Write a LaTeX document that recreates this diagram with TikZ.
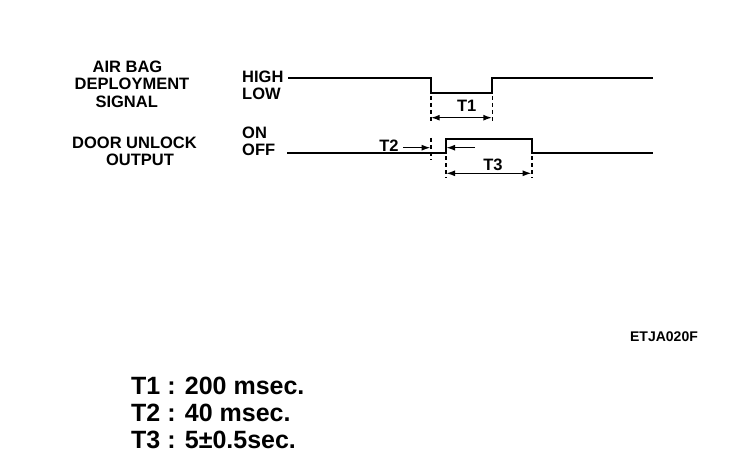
\documentclass[tikz,border=0pt]{standalone}
\usepackage{fontspec}
\setmainfont{Liberation Sans}
\usetikzlibrary{arrows.meta}
\begin{document}
\begin{tikzpicture}[x=1pt,y=-1pt,
  lbl/.style={inner sep=0pt,anchor=base,font=\fontsize{16.5}{18}\selectfont\bfseries},
  lblw/.style={lbl,anchor=base west},
  wave/.style={line width=2.2pt,line join=miter},
  guide/.style={line width=1.6pt,dash pattern=on 4pt off 3pt},
  dim/.style={line width=1.6pt,{Latex[length=9pt,width=6pt]}-{Latex[length=9pt,width=6pt]}},
  pointer/.style={line width=1.6pt,-{Latex[length=9pt,width=6pt]}},
  legend/.style={inner sep=0pt,anchor=base west,font=\fontsize{25}{28}\selectfont\bfseries}]
\useasboundingbox (0,0) rectangle (736,476);
% left labels
\node[lbl] (l1) at (127.5,73) {AIR BAG};
\node[lbl] (l2) at (132,90) {DEPLOYMENT};
\node[lbl] (l3) at (126.7,108) {SIGNAL};
\node[lbl] (l4) at (134.5,149) {DOOR UNLOCK};
\node[lbl] (l5) at (140,165) {OUTPUT};
% state labels
\node[lblw] (high) at (242,83) {HIGH};
\node[lblw] (low) at (242,99.5) {LOW};
\node[lblw] (on) at (242,139) {ON};
\node[lblw] (off) at (242,156) {OFF};
% waveform corners
\coordinate (a0) at (288,77.7);
\coordinate (a1) at (430.7,77.7);
\coordinate (a2) at (430.7,93.3);
\coordinate (a3) at (492.3,93.3);
\coordinate (a4) at (492.3,77.7);
\coordinate (a5) at (653,77.7);
\coordinate (b0) at (287,153.3);
\coordinate (b1) at (446,153.3);
\coordinate (b2) at (446,139);
\coordinate (b3) at (531.7,139);
\coordinate (b4) at (531.7,153.3);
\coordinate (b5) at (653,153.3);
\draw[wave] (a0) -- (a1) -- (a2) -- (a3) -- (a4) -- (a5);
\draw[wave] (b0) -- (b1) -- (b2) -- (b3) -- (b4) -- (b5);
% guides
\coordinate (g1t) at (430.7,96); \coordinate (g1b) at (430.7,123);
\coordinate (g2t) at (492.3,96); \coordinate (g2b) at (492.3,123);
\coordinate (g3t) at (430.7,138); \coordinate (g3b) at (430.7,160);
\coordinate (g4t) at (446,156); \coordinate (g4b) at (446,178);
\coordinate (g5t) at (531.7,156); \coordinate (g5b) at (531.7,178);
\draw[guide] (g1t) -- (g1b);
\draw[guide] (g2t) -- (g2b);
\draw[guide] (g3t) -- (g3b);
\draw[guide] (g4t) -- (g4b);
\draw[guide] (g5t) -- (g5b);
% dimensions
\coordinate (d1l) at (430.7,117.7); \coordinate (d1r) at (492.3,117.7);
\draw[dim] (d1l) -- (d1r);
\coordinate (d3l) at (446,173.3); \coordinate (d3r) at (531.7,173.3);
\draw[dim] (d3l) -- (d3r);
\coordinate (p1s) at (403,147.7); \coordinate (p1e) at (430.7,147.7);
\draw[pointer] (p1s) -- (p1e);
\coordinate (p2s) at (475,147.7); \coordinate (p2e) at (446,147.7);
\draw[pointer] (p2s) -- (p2e);
\node[lbl] (t1) at (466.7,111.5) {T1};
\node[lbl] (t2) at (389,151) {T2};
\node[lbl] (t3) at (493,170.5) {T3};
% code
\node[inner sep=0pt,anchor=base,font=\fontsize{14}{16}\selectfont\bfseries] (code) at (664,341) {ETJA020F};
% legend
\node[legend] (k1) at (131,394.5) {T1 : 200 msec.};
\node[legend] (k2) at (131,421) {T2 : 40 msec.};
\node[legend] (k3) at (131,448) {T3 : 5±0.5sec.};
\end{tikzpicture}
\end{document}
